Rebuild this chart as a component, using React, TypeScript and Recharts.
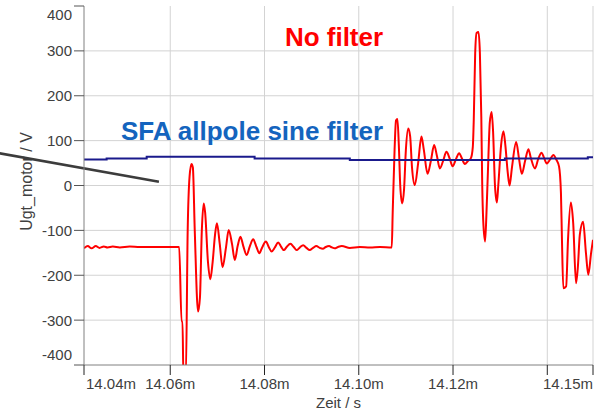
import { CartesianGrid, Customized, Line, LineChart, ReferenceLine, XAxis, YAxis } from 'recharts'

// time axis in microseconds, voltage in V
const T_START = 14041.7
const T_END = 14149.7

const X_TICKS = [T_START, 14060, 14080, 14100, 14120, 14140, T_END]
const X_GRID = [14060, 14080, 14100, 14120, 14140, T_END]
const Y_TICKS = [-400, -300, -200, -100, 0, 100, 200, 300, 400]
const Y_GRID = [-300, -200, -100, 0, 100, 200, 300]

// unfiltered motor voltage
const RAW_TIME = [
  14041.7, 14042.5, 14043.3, 14044.2, 14045.0, 14045.9, 14046.7, 14047.8, 14049.3, 14051.4, 14053.5,
  14061.9, 14062.4, 14062.6, 14062.8, 14063.3, 14063.7, 14064.1, 14064.5, 14064.8, 14065.2, 14065.9,
  14066.3, 14066.7, 14067.1, 14067.4, 14068.0, 14068.5, 14069.0, 14069.5, 14069.9, 14070.5, 14071.1,
  14071.8, 14072.4, 14073.1, 14073.7, 14074.3, 14074.9, 14075.5, 14076.2, 14076.9, 14077.6, 14078.3,
  14078.9, 14079.5, 14080.3, 14080.9, 14081.5, 14082.2, 14082.9, 14083.5, 14084.1, 14084.7, 14085.5,
  14086.2, 14086.8, 14087.5, 14088.2, 14088.9, 14089.6, 14090.3, 14091.0, 14091.7, 14092.4, 14093.0,
  14093.7, 14094.3, 14094.9, 14095.6, 14096.4, 14098.1, 14100.2, 14102.4, 14104.5, 14107.0, 14107.2,
  14107.6, 14107.9, 14108.2, 14108.5, 14108.8, 14109.2, 14109.6, 14110.0, 14110.5, 14110.9, 14111.3,
  14111.9, 14112.6, 14113.3, 14113.8, 14114.6, 14115.3, 14116.0, 14116.6, 14117.2, 14117.9, 14118.6,
  14119.3, 14119.9, 14120.6, 14121.3, 14121.9, 14122.5, 14123.2, 14123.8, 14124.2, 14124.4, 14124.7,
  14125.0, 14125.4, 14125.7, 14126.0, 14126.2, 14126.4, 14126.8, 14127.1, 14127.4, 14127.8, 14128.2,
  14128.5, 14128.9, 14129.3, 14129.6, 14130.2, 14130.7, 14131.1, 14131.6, 14132.0, 14132.5, 14133.4,
  14134.0, 14134.6, 14135.3, 14136.0, 14136.5, 14137.4, 14138.1, 14138.8, 14139.3, 14139.9, 14140.6,
  14141.3, 14141.9, 14142.5, 14142.9, 14143.1, 14143.4, 14144.0, 14144.4, 14145.0, 14145.5, 14146.1,
  14146.5, 14146.9, 14147.6, 14148.2, 14148.7, 14149.3, 14149.7,
]
const RAW_VOLT = [
  -140, -135, -140, -135, -139, -136, -138, -136, -138, -136, -137,
  -137, -303, -303, -430, -430, -100, 20, 48, 40, -100, -281,
  -250, -100, -40, -60, -170, -209, -170, -110, -84, -130, -182,
  -140, -99, -130, -166, -135, -114, -135, -155, -135, -120, -137,
  -151, -138, -125, -137, -147, -138, -127, -136, -144, -137, -130,
  -137, -144, -138, -133, -139, -144, -139, -135, -139, -141, -137,
  -135, -138, -140, -137, -135, -139, -137, -138, -137, -138, -60,
  80, 145, 148, 90, 0, -40, -10, 80, 127, 110, 40,
  1, 50, 109, 80, 26, 55, 90, 65, 38, 55, 75,
  60, 43, 58, 72, 60, 48, 55, 61, 86, 146, 294,
  340, 342, 295, 153, 0, -77, -125, -60, 30, 140, 164,
  120, 0, -38, 0, 90, 121, 90, 30, 0, 40, 97,
  60, 26, 55, 81, 62, 38, 60, 73, 62, 49, 58,
  68, 58, 42, -17, -114, -229, -225, -120, -38, -84, -218,
  -180, -110, -81, -150, -199, -150, -121,
]

// output of the allpole sine filter
const SFA_TIME = [14041.7, 14046.5, 14055.0, 14077.9, 14098.1, 14131.0, 14148.6, 14149.7]
const SFA_VOLT = [58, 60, 64, 60, 57, 60, 63, 63]

const rawData = RAW_TIME.map((t, i) => ({ t, v: RAW_VOLT[i] }))
const sfaData = SFA_TIME.map((t, i) => ({ t, v: SFA_VOLT[i] }))

const W = 603
const H = 411
const M = { top: 6, right: 10, bottom: 0, left: 0 }
const Y_AXIS_W = 84
const X_AXIS_H = 46
const FONT = '"Liberation Sans", Arial, sans-serif'
const TEXT = '#404040'

const plotLeft = M.left + Y_AXIS_W
const plotRight = W - M.right
const plotTop = M.top
const plotBottom = H - M.bottom - X_AXIS_H

function fmtTime(t: number) {
  return (t / 1000).toFixed(2) + 'm'
}

function XTick({ x, y, payload }: any) {
  const v = payload.value
  if (v === 14140) return null
  let anchor: 'start' | 'middle' | 'end' = 'middle'
  if (v === T_START) anchor = 'start'
  if (v === T_END) anchor = 'end'
  return (
    <text x={anchor === 'start' ? x + 2 : x} y={y} dy="0.71em" textAnchor={anchor} fill={TEXT} fontSize={15} fontFamily={FONT}>
      {fmtTime(v)}
    </text>
  )
}

function YTick({ x, y, payload }: any) {
  const v = payload.value
  let shift = 0
  if (v === 400) shift = 9
  if (v === -400) shift = -10
  return (
    <text x={x} y={y + shift} dy="0.36em" textAnchor="end" fill={TEXT} fontSize={15} fontFamily={FONT}>
      {v}
    </text>
  )
}

function Annotations() {
  const midY = (plotTop + plotBottom) / 2
  const midX = (plotLeft + plotRight) / 2
  return (
    <g fontFamily={FONT}>
      <text x={26} y={midY - 4} transform={`rotate(-90 26 ${midY - 4})`} textAnchor="middle" dy="0.36em" fontSize={16} fill={TEXT}>
        Ugt_motor / V
      </text>
      <text x={midX} y={H - 3} textAnchor="middle" fontSize={15} fill={TEXT}>
        Zeit / s
      </text>
      <text x={334} y={46} textAnchor="middle" fontSize={26} fontWeight="bold" fill="#ff0000">
        No filter
      </text>
      <text x={252} y={140} textAnchor="middle" fontSize={26} fontWeight="bold" fill="#1464be">
        SFA allpole sine filter
      </text>
    </g>
  )
}

export default function App() {
  return (
    <div style={{ position: 'absolute', left: 0, top: 0, width: W, height: H, background: '#fff' }}>
      <LineChart width={W} height={H} margin={M}>
        <CartesianGrid
          stroke="#d3d3d3"
          strokeWidth={1}
          verticalValues={X_GRID}
          horizontalValues={Y_GRID}
        />
        <XAxis
          type="number"
          dataKey="t"
          domain={[T_START, T_END]}
          ticks={X_TICKS}
          interval={0}
          allowDataOverflow
          height={X_AXIS_H}
          tickSize={10}
          tickMargin={3}
          axisLine={{ stroke: '#808080' }}
          tickLine={{ stroke: '#222' }}
          tick={<XTick />}
        />
        <YAxis
          type="number"
          dataKey="v"
          domain={[-400, 400]}
          ticks={Y_TICKS}
          interval={0}
          allowDataOverflow
          width={Y_AXIS_W}
          tickSize={10}
          tickMargin={2}
          axisLine={{ stroke: '#808080' }}
          tickLine={{ stroke: '#555' }}
          tick={<YTick />}
        />
        <Line
          data={rawData}
          dataKey="v"
          type="monotone"
          stroke="#ff0000"
          strokeWidth={2}
          dot={false}
          isAnimationActive={false}
        />
        <Line
          data={sfaData}
          dataKey="v"
          type="stepAfter"
          stroke="#1a1a8c"
          strokeWidth={2}
          dot={false}
          isAnimationActive={false}
        />
        <Customized component={Annotations} />
        <ReferenceLine
          segment={[
            { x: 14023.8, y: 71.7 },
            { x: 14057.6, y: 8.5 },
          ]}
          ifOverflow="visible"
          stroke="#3c3c3c"
          strokeWidth={2.5}
        />
      </LineChart>
    </div>
  )
}
